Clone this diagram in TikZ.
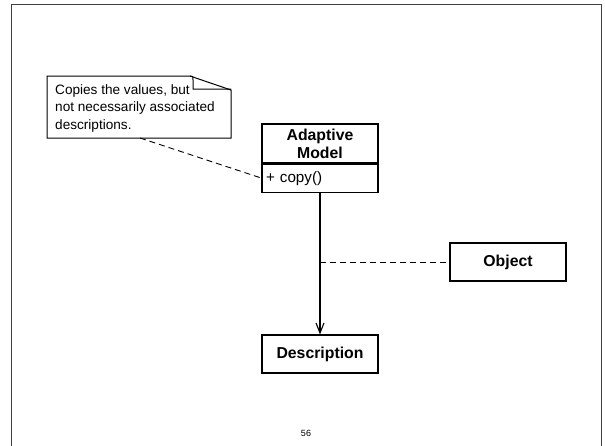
\documentclass[tikz,border=0pt]{standalone}
\usepackage{fontspec}
\setmainfont{Liberation Sans}
\usetikzlibrary{arrows.meta}
\begin{document}
\begin{tikzpicture}[x=1pt,y=-1pt,
  umlbox/.style={draw=black, line width=1.1pt, rectangle, minimum width=116pt, inner sep=0pt},
  boldlabel/.style={font=\fontsize{15.8}{18}\selectfont\bfseries},
  notetext/.style={font=\fontsize{13.6}{17.5}\selectfont, align=left, anchor=north west, inner sep=0pt},
  dashlink/.style={draw=black, line width=0.9pt, dash pattern=on 6pt off 4pt},
  navlink/.style={draw=black, line width=1.1pt, -{Straight Barb[length=10pt,width=8pt,line width=1.1pt]}}]
  \useasboundingbox (0,0) rectangle (605,445);
  % slide frame
  \draw[draw=black!75, line width=0.9pt] (11,450) -- (11,4) -- (601,4) -- (601,450);

  % note with folded corner
  \draw[line width=1pt, fill=white] (47,76) -- (190,76) -- (231,90) -- (231,138) -- (47,138) -- cycle;
  \draw[line width=1pt] (190,76) .. controls (193,76) .. (193,80) -- (193,89) -- (231,89);
  \node[notetext] (note) at (55,84) {Copies the values, but\\not necessarily associated\\descriptions.};
  \coordinate (notefoot) at (140,138);

  % class Adaptive Model
  \node[umlbox, minimum height=39pt, boldlabel, align=center] (amhead) at (320,143.5) {Adaptive\\Model};
  \node[umlbox, minimum height=28pt, anchor=north, text width=108pt, align=left,
        font=\fontsize{15.2}{18}\selectfont] (amops) at (amhead.south) {+ copy()};

  % classes Description and Object
  \node[umlbox, minimum height=38pt, boldlabel] (desc) at (320,354) {Description};
  \node[umlbox, minimum height=38pt, boldlabel] (obj) at (508,262) {Object};

  % connectors
  \draw[navlink] (amops.south) -- (desc.north);
  \coordinate (assoc) at (320,262);
  \draw[dashlink] (assoc) -- (obj.west);
  \draw[dashlink] (notefoot) -- (amops.west);

  % page number
  \node[font=\fontsize{9}{10}\selectfont] (pagenum) at (306,433) {56};
\end{tikzpicture}
\end{document}
